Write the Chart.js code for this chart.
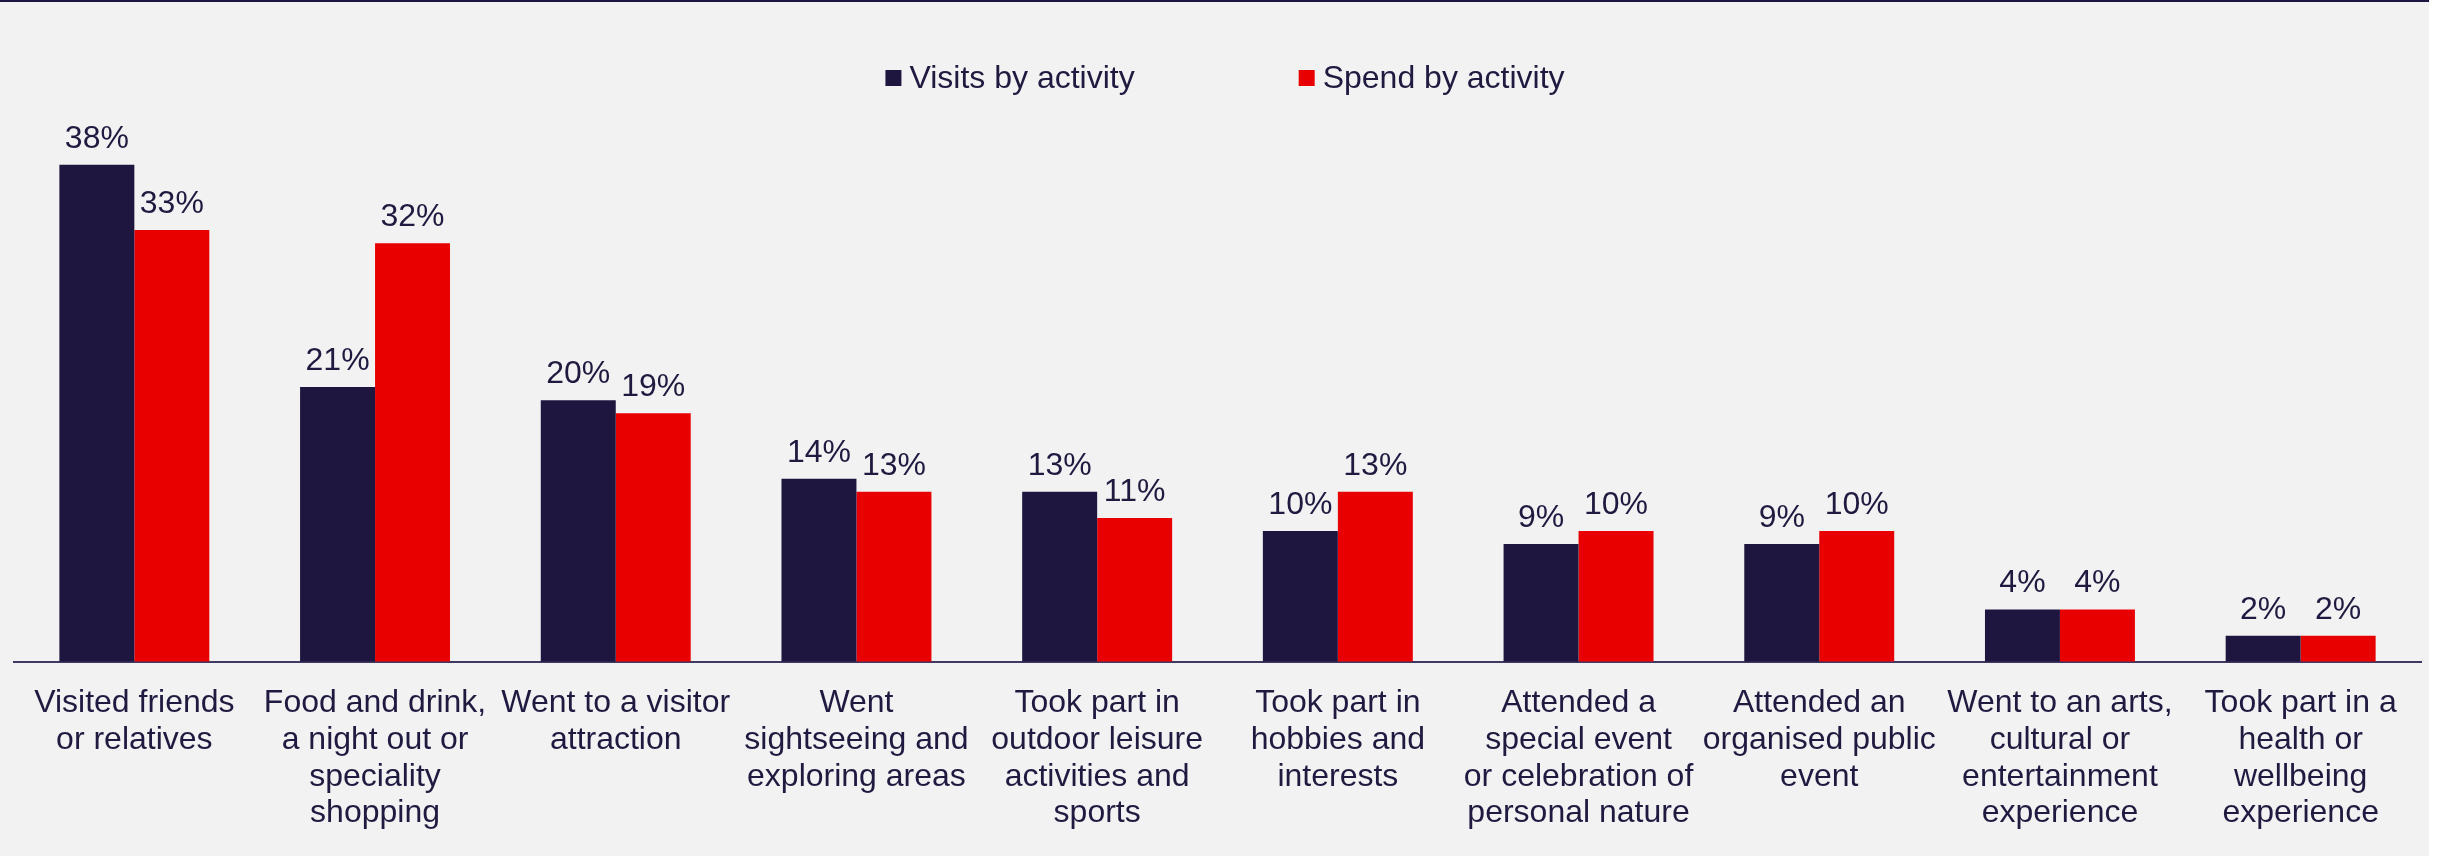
<!DOCTYPE html>
<html>
<head>
<meta charset="utf-8">
<script src="https://cdn.jsdelivr.net/npm/chart.js@4/dist/chart.umd.min.js"></script>
<style>
  html, body { margin: 0; padding: 0; background: #ffffff; }
  #wrap {
    width: 2429px;
    height: 856px;
    box-sizing: border-box;
    border-top: 2px solid #1e1641;
    background: #f2f2f2;
  }
  #activity-chart { display: block; }
</style>
</head>
<body>
<div id="wrap">
  <canvas id="activity-chart" width="2429" height="854"></canvas>
</div>
<script>
const categories = [
  ["Visited friends", "or relatives"],
  ["Food and drink,", "a night out or", "speciality", "shopping"],
  ["Went to a visitor", "attraction"],
  ["Went", "sightseeing and", "exploring areas"],
  ["Took part in", "outdoor leisure", "activities and", "sports"],
  ["Took part in", "hobbies and", "interests"],
  ["Attended a", "special event", "or celebration of", "personal nature"],
  ["Attended an", "organised public", "event"],
  ["Went to an arts,", "cultural or", "entertainment", "experience"],
  ["Took part in a", "health or", "wellbeing", "experience"],
];

const visitsByActivity = [38, 21, 20, 14, 13, 10, 9, 9, 4, 2];
const spendByActivity = [33, 32, 19, 13, 11, 13, 10, 10, 4, 2];

const NAVY = "#1f1640";
const RED = "#e80000";
const TEXT = "#1f1a40";
const FONT = "'Liberation Sans', Arial, sans-serif";

// percentage labels above every bar
const barValueLabels = {
  id: "barValueLabels",
  afterDatasetsDraw(chart) {
    const { ctx } = chart;
    ctx.save();
    ctx.font = `32px ${FONT}`;
    ctx.fillStyle = TEXT;
    ctx.textAlign = "center";
    ctx.textBaseline = "alphabetic";
    chart.data.datasets.forEach((dataset, i) => {
      chart.getDatasetMeta(i).data.forEach((bar, j) => {
        ctx.fillText(dataset.data[j] + "%", bar.x, bar.y - 17);
      });
    });
    ctx.restore();
  },
};

// legend row centred over the plot, square swatches
const squareLegend = {
  id: "squareLegend",
  afterDraw(chart) {
    const { ctx } = chart;
    const box = 16;
    const textGap = 8;
    const itemGap = 164;
    const centerY = 76;
    ctx.save();
    ctx.font = `32px ${FONT}`;
    ctx.textBaseline = "middle";
    ctx.textAlign = "left";
    const items = chart.data.datasets.map((ds) => ({
      label: ds.label,
      color: ds.backgroundColor,
      width: box + textGap + ctx.measureText(ds.label).width,
    }));
    const total =
      items.reduce((sum, it) => sum + it.width, 0) + itemGap * (items.length - 1);
    let x = 1225 - total / 2;
    items.forEach((it) => {
      ctx.fillStyle = it.color;
      ctx.fillRect(x, centerY - box / 2, box, box);
      ctx.fillStyle = TEXT;
      ctx.fillText(it.label, x + box + textGap, centerY + 1);
      x += it.width + itemGap;
    });
    ctx.restore();
  },
};

new Chart(document.getElementById("activity-chart"), {
  type: "bar",
  data: {
    labels: categories,
    datasets: [
      {
        label: "Visits by activity",
        data: visitsByActivity,
        backgroundColor: NAVY,
        borderWidth: 0,
      },
      {
        label: "Spend by activity",
        data: spendByActivity,
        backgroundColor: RED,
        borderWidth: 0,
      },
    ],
  },
  options: {
    responsive: false,
    animation: false,
    categoryPercentage: 0.623,
    barPercentage: 1,
    layout: {
      padding: { top: 58, left: 14, right: 8, bottom: 9 },
    },
    plugins: {
      legend: { display: false },
      tooltip: { enabled: false },
    },
    scales: {
      x: {
        grid: { display: false },
        border: { display: true, color: "#403a62", width: 2 },
        ticks: {
          color: TEXT,
          font: { family: FONT, size: 32, lineHeight: 1.15 },
          padding: 15,
          maxRotation: 0,
          autoSkip: false,
        },
      },
      y: {
        display: false,
        min: 0,
        max: 46,
      },
    },
  },
  plugins: [barValueLabels, squareLegend],
});
</script>
</body>
</html>
